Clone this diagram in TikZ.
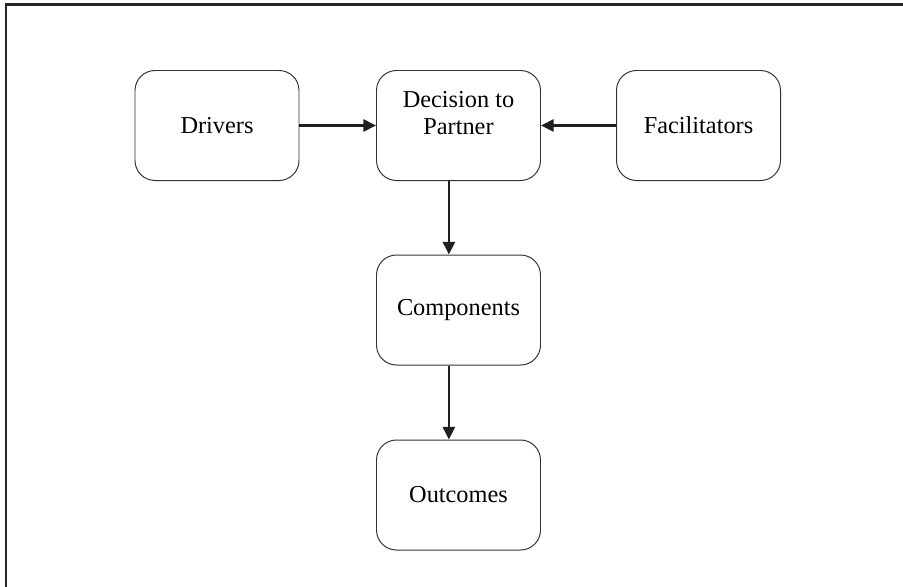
\documentclass[tikz,border=0pt]{standalone}
\usepackage{fontspec}
\setmainfont{Liberation Serif}
\usetikzlibrary{arrows.meta, positioning}

\begin{document}
\begin{tikzpicture}[
    stagebox/.style = {rectangle, draw=black!80, line width=0.7pt, rounded corners=0.5cm, align=center, font=\fontsize{17.3}{19.5}\selectfont, minimum width=4.1cm, minimum height=2.75cm, inner sep=0pt},
    arrow/.style = {draw=black!88, -{Triangle[length=9pt, width=8.5pt]}, line width=2pt},
    frame/.style = {draw=black!85, line width=1.6pt}
]

% Page size and outer frame (only top and left edges are visible)
\useasboundingbox (0,0) rectangle (22.575,-14.65);
\clip (0,0) rectangle (22.575,-14.65);
\draw [frame] (0.15,-15) |- (23,-0.1125);

% Top row
\node (drivers) [stagebox] at (5.425, -3.1375) {Drivers};
\node (decision) [stagebox] at (11.4625, -3.1375) {\raisebox{7pt}[\height][\depth]{\begin{tabular}{@{}c@{}}Decision to\\Partner\end{tabular}}};
\node (facil) [stagebox] at (17.4625, -3.1375) {Facilitators};

% Middle column
\node (comp) [stagebox] at (11.4625, -7.75) {Components};
\node (outc) [stagebox] at (11.4625, -12.375) {Outcomes};

% Connections
\draw [arrow] (drivers.east) -- (decision.west);
\draw [arrow] (facil.west) -- (decision.east);
\draw [arrow] ([xshift=-0.24cm]decision.south) -- ([xshift=-0.24cm]comp.north);
\draw [arrow] ([xshift=-0.24cm]comp.south) -- ([xshift=-0.24cm]outc.north);

\end{tikzpicture}
\end{document}
